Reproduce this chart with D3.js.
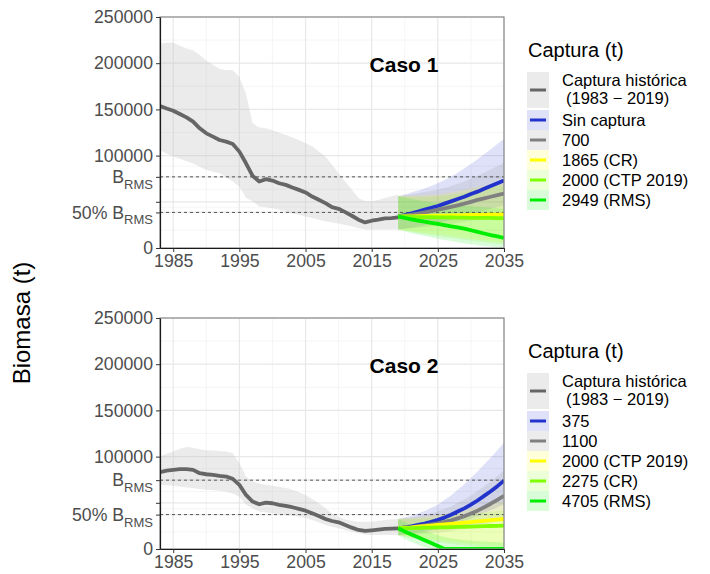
<!DOCTYPE html>
<html>
<head>
<meta charset="utf-8">
<script src="https://cdn.jsdelivr.net/npm/d3@7"></script>
<style>
  body { margin: 0; background: #fff; }
  svg { font-family: 'Liberation Sans', Arial, sans-serif; }
</style>
</head>
<body>
<div id="chart"></div>
<script>
// Data
const histYears = [1983, 1984, 1985, 1986, 1987, 1988, 1989, 1990, 1991, 1992, 1993, 1994, 1995, 1996, 1997, 1998, 1999, 2000, 2001, 2002, 2003, 2004, 2005, 2006, 2007, 2008, 2009, 2010, 2011, 2012, 2013, 2014, 2015, 2016, 2017, 2018, 2019]
const projYears = [2019, 2020, 2021, 2022, 2023, 2024, 2025, 2026, 2027, 2028, 2029, 2030, 2031, 2032, 2033, 2034, 2035]

// Caso 1
const caso1Brms = 77000
const caso1Hist = [153600, 151000, 148600, 145000, 141400, 136700, 129500, 124100, 120500, 116900, 115100, 112600, 104300, 91700, 78000, 71900, 74500, 73000, 70100, 68300, 65500, 62900, 60100, 55700, 52200, 48600, 44200, 42400, 38800, 34900, 30600, 27700, 29500, 30600, 32000, 32400, 33100]
const caso1HistHi = [221000, 222000, 222000, 219000, 216000, 214000, 209000, 203000, 198000, 194000, 192500, 192500, 185000, 167000, 135000, 130500, 129500, 127500, 125000, 122500, 119500, 117000, 113500, 110000, 104500, 99000, 90000, 81000, 72000, 63000, 54000, 50500, 50500, 52000, 54000, 56000, 57500]
const caso1HistLo = [106000, 102000, 99000, 96500, 94000, 91500, 88000, 84500, 82500, 81000, 76500, 72000, 66500, 54000, 50500, 45000, 44000, 43000, 41500, 39500, 37500, 36000, 34000, 32500, 30500, 29000, 27500, 26500, 25000, 23500, 21500, 20000, 20000, 20000, 20000, 20000, 20000]
const caso1Labels = ['Sin captura', '700', '1865 (CR)', '2000 (CTP 2019)', '2949 (RMS)']

const caso1Sin = [34000, 35700, 37500, 39500, 41500, 43500, 45500, 48000, 50500, 53000, 55500, 58500, 61000, 64000, 67000, 70000, 73000]
const caso1SinLo = [20000, 21000, 22000, 23200, 24500, 25700, 27000, 28700, 30500, 32500, 34500, 36500, 38500, 40500, 42500, 44300, 46000]
const caso1SinHi = [56000, 58000, 60000, 62200, 64500, 67000, 70000, 73500, 77000, 81500, 86000, 91000, 96000, 101500, 107000, 112500, 118000]
const caso1C700 = [34000, 35000, 36000, 37200, 38500, 40000, 41500, 43000, 44500, 46200, 48000, 50000, 52000, 53700, 55500, 57200, 59000]
const caso1C700Lo = [20000, 20500, 21000, 21700, 22500, 23200, 24000, 25000, 26000, 27200, 28500, 29700, 31000, 32200, 33500, 34700, 36000]
const caso1C700Hi = [56000, 57000, 58000, 59200, 60500, 61700, 63000, 65000, 67000, 69500, 72000, 75000, 78000, 81500, 85000, 88500, 92000]
const caso1C1865 = [34000, 34100, 34300, 34500, 34700, 34800, 35000, 35100, 35300, 35400, 35600, 35700, 35800, 35900, 36000, 36100, 36200]
const caso1C1865Lo = [20000, 19000, 18000, 17200, 16500, 15700, 15000, 14000, 13000, 12000, 11000, 10000, 9000, 8200, 7500, 6700, 6000]
const caso1C1865Hi = [56000, 56200, 56500, 56700, 57000, 57500, 58000, 59000, 60000, 61500, 63000, 64500, 66000, 67500, 69000, 70500, 72000]
const caso1C2000 = [34000, 33800, 33700, 33500, 33400, 33300, 33200, 33100, 33000, 32900, 32800, 32700, 32600, 32500, 32500, 32400, 32400]
const caso1C2000Lo = [20000, 18700, 17500, 16200, 15000, 14000, 13000, 12000, 11000, 10000, 9000, 8000, 7000, 6200, 5500, 4700, 4000]
const caso1C2000Hi = [56000, 55700, 55500, 55500, 55500, 55700, 56000, 56700, 57500, 58700, 60000, 61500, 63000, 64500, 66000, 67000, 68000]
const caso1C2949 = [34000, 32500, 31000, 29700, 28500, 27200, 26000, 24700, 23500, 22200, 21000, 19200, 17500, 15700, 14000, 12500, 11000]
const caso1C2949Lo = [20000, 18000, 16000, 14500, 13000, 11500, 10000, 8700, 7500, 6200, 5000, 4000, 3000, 2200, 1500, 700, 0]
const caso1C2949Hi = [56000, 54500, 53000, 51700, 50500, 49500, 48500, 47700, 47000, 46200, 45500, 45000, 44500, 44000, 43500, 43000, 42500]

// Caso 2
const caso2Brms = 74500
const caso2Hist = [83100, 84900, 85600, 86400, 86400, 85600, 82000, 80900, 80200, 79100, 78400, 75900, 69400, 58500, 51300, 48400, 50200, 49500, 47700, 46600, 45200, 43400, 41500, 38700, 35800, 32500, 30300, 28900, 26000, 23100, 20600, 19500, 20200, 21000, 21700, 22000, 22400]
const caso2HistHi = [100000, 103000, 105500, 108500, 110500, 109500, 108000, 107000, 106500, 106000, 105500, 103500, 93000, 78500, 73000, 71000, 69500, 68500, 67500, 66000, 64000, 61500, 58500, 54000, 49500, 44000, 38500, 35000, 32000, 30500, 29500, 29500, 29500, 30500, 31500, 32000, 32500]
const caso2HistLo = [69500, 69000, 68500, 67500, 66500, 66000, 65000, 64000, 63500, 63000, 62000, 60000, 56500, 48000, 44000, 40500, 39500, 38700, 37800, 37000, 36000, 35000, 33500, 31500, 29000, 26000, 24000, 22500, 20500, 18800, 17000, 15500, 15200, 15200, 15200, 15200, 15200]
const caso2Labels = ['375', '1100', '2000 (CTP 2019)', '2275 (CR)', '4705 (RMS)']

const caso2C375 = [22400, 23400, 24500, 26000, 27500, 29500, 31500, 34000, 37000, 40500, 44000, 48000, 52500, 57500, 62500, 68000, 74000]
const caso2C375Lo = [15000, 15700, 16500, 17500, 18500, 20000, 21500, 23500, 25500, 28000, 30500, 33000, 36000, 39000, 42000, 45000, 48000]
const caso2C375Hi = [32500, 34200, 36000, 38500, 41000, 44500, 48000, 53000, 58000, 64000, 70000, 77000, 84000, 91500, 99000, 107000, 115000]
const caso2C1100 = [22400, 23000, 23500, 24500, 25500, 26600, 27800, 29300, 31000, 33200, 35500, 38500, 41500, 45200, 49000, 53200, 57500]
const caso2C1100Lo = [15000, 15200, 15500, 16000, 16500, 17000, 17500, 18500, 19500, 20700, 22000, 23500, 25000, 26700, 28500, 30200, 32000]
const caso2C1100Hi = [32500, 33200, 34000, 35500, 37000, 38700, 40500, 43200, 46000, 49700, 53500, 58000, 62500, 67700, 73000, 79000, 85000]
const caso2C2000 = [22400, 23000, 23500, 24200, 24800, 25400, 26000, 26600, 27200, 27800, 28500, 29100, 29800, 30500, 31200, 31800, 32500]
const caso2C2000Lo = [15000, 14000, 13000, 12000, 11000, 10200, 9500, 8700, 8000, 7200, 6500, 5700, 5000, 4500, 4000, 3500, 3000]
const caso2C2000Hi = [32500, 33000, 33500, 34200, 35000, 35700, 36500, 37700, 39000, 40500, 42000, 43500, 45000, 46700, 48500, 50200, 52000]
const caso2C2275 = [22400, 22500, 22700, 22800, 23000, 23100, 23300, 23500, 23700, 23900, 24100, 24300, 24500, 24700, 24900, 25100, 25300]
const caso2C2275Lo = [15000, 13500, 12000, 10700, 9500, 8500, 7500, 6500, 5500, 4700, 4000, 3200, 2500, 1700, 1000, 500, 0]
const caso2C2275Hi = [32500, 32500, 32500, 32700, 33000, 33200, 33500, 34200, 35000, 35700, 36500, 37500, 38500, 39500, 40500, 41200, 42000]
const caso2C4705 = [22400, 19000, 15800, 12600, 9500, 6400, 3300, 0, 0, 0, 0, 0, 0, 0, 0, 0, 0]
const caso2C4705Lo = [15000, 11000, 7500, 4500, 2000, 500, 0, 0, 0, 0, 0, 0, 0, 0, 0, 0, 0]
const caso2C4705Hi = [32500, 29000, 26000, 23000, 20000, 17500, 15000, 13000, 11500, 10500, 9500, 9000, 8500, 8000, 7500, 7200, 7000]

const yTicks = [0, 50000, 100000, 150000, 200000, 250000]
const xTicks = [1985, 1995, 2005, 2015, 2025, 2035]
const xMinor = [1990, 2000, 2010, 2020, 2030]

// Styles
const scenarioColors = ['#2233cc', '#808080', '#ffff00', '#7fff00', '#00ee00']
const histColor = '#666666'
const histFill = '#bdbdbd'

let dimensions = {
  width: 710,
  height: 574,
  left: 160,
  right: 504,
  panelH: 231,
}

const panels = [
  {
    top: 17,
    title: 'Caso 1',
    brms: caso1Brms,
    hist: caso1Hist, histLo: caso1HistLo, histHi: caso1HistHi,
    labels: caso1Labels,
    proj: [
      [caso1Sin, caso1SinLo, caso1SinHi],
      [caso1C700, caso1C700Lo, caso1C700Hi],
      [caso1C1865, caso1C1865Lo, caso1C1865Hi],
      [caso1C2000, caso1C2000Lo, caso1C2000Hi],
      [caso1C2949, caso1C2949Lo, caso1C2949Hi],
    ],
  },
  {
    top: 318,
    title: 'Caso 2',
    brms: caso2Brms,
    hist: caso2Hist, histLo: caso2HistLo, histHi: caso2HistHi,
    labels: caso2Labels,
    proj: [
      [caso2C375, caso2C375Lo, caso2C375Hi],
      [caso2C1100, caso2C1100Lo, caso2C1100Hi],
      [caso2C2000, caso2C2000Lo, caso2C2000Hi],
      [caso2C2275, caso2C2275Lo, caso2C2275Hi],
      [caso2C4705, caso2C4705Lo, caso2C4705Hi],
    ],
  },
]

const svg = d3
  .select('#chart')
  .append('svg')
  .attr('width', dimensions.width)
  .attr('height', dimensions.height)

const xScale = d3
  .scaleLinear()
  .domain([1983, 2035])
  .range([dimensions.left, dimensions.right])

panels.forEach((p, pi) => {
  const yScale = d3
    .scaleLinear()
    .domain([0, 250000])
    .range([p.top + dimensions.panelH, p.top])

  const bottom = p.top + dimensions.panelH
  const half = p.brms / 2

  // grid
  const grid = svg.append('g')
  const majorY = [...yTicks, p.brms, half]
  const sorted = majorY.slice().sort((a, b) => a - b)
  const minorY = d3.pairs(sorted).map(([a, b]) => (a + b) / 2)
  grid.selectAll('.minY').data(minorY).join('line')
    .attr('x1', dimensions.left).attr('x2', dimensions.right)
    .attr('y1', (d) => yScale(d)).attr('y2', (d) => yScale(d))
    .attr('stroke', '#f0f0f0').attr('stroke-width', 0.7)
  grid.selectAll('.minX').data(xMinor).join('line')
    .attr('x1', (d) => xScale(d)).attr('x2', (d) => xScale(d))
    .attr('y1', p.top).attr('y2', bottom)
    .attr('stroke', '#f0f0f0').attr('stroke-width', 0.7)
  grid.selectAll('.majY').data(majorY).join('line')
    .attr('x1', dimensions.left).attr('x2', dimensions.right)
    .attr('y1', (d) => yScale(d)).attr('y2', (d) => yScale(d))
    .attr('stroke', '#e8e8e8').attr('stroke-width', 1.2)
  grid.selectAll('.majX').data(xTicks).join('line')
    .attr('x1', (d) => xScale(d)).attr('x2', (d) => xScale(d))
    .attr('y1', p.top).attr('y2', bottom)
    .attr('stroke', '#e8e8e8').attr('stroke-width', 1.2)

  // clip
  svg.append('clipPath').attr('id', 'clip' + pi)
    .append('rect')
    .attr('x', dimensions.left).attr('y', p.top)
    .attr('width', dimensions.right - dimensions.left)
    .attr('height', dimensions.panelH)

  const ctr = svg.append('g').attr('clip-path', `url(#clip${pi})`)

  // historical ribbon
  const histArea = d3.area()
    .x((d, i) => xScale(histYears[i]))
    .y0((d, i) => yScale(p.histLo[i]))
    .y1((d, i) => yScale(p.histHi[i]))
  ctr.append('path').datum(p.hist).attr('d', histArea)
    .attr('fill', histFill).attr('fill-opacity', 0.3)

  // projection ribbons
  p.proj.forEach(([mid, lo, hi], si) => {
    const area = d3.area()
      .x((d, i) => xScale(projYears[i]))
      .y0((d, i) => yScale(lo[i]))
      .y1((d, i) => yScale(hi[i]))
    ctr.append('path').datum(mid).attr('d', area)
      .attr('fill', scenarioColors[si]).attr('fill-opacity', 0.15)
  })

  // reference lines
  ctr.selectAll('.ref').data([p.brms, half]).join('line')
    .attr('x1', dimensions.left).attr('x2', dimensions.right)
    .attr('y1', (d) => yScale(d)).attr('y2', (d) => yScale(d))
    .attr('stroke', '#555').attr('stroke-width', 1)
    .attr('stroke-dasharray', '3,3')

  // lines
  const histLine = d3.line()
    .x((d, i) => xScale(histYears[i]))
    .y((d) => yScale(d))
  ctr.append('path').datum(p.hist).attr('d', histLine)
    .attr('fill', 'none').attr('stroke', histColor)
    .attr('stroke-width', 3.8).attr('stroke-linejoin', 'round')

  const projLine = d3.line()
    .x((d, i) => xScale(projYears[i]))
    .y((d) => yScale(d))
  p.proj.forEach(([mid], si) => {
    ctr.append('path').datum(mid).attr('d', projLine)
      .attr('fill', 'none').attr('stroke', scenarioColors[si])
      .attr('stroke-width', 3.8).attr('stroke-linejoin', 'round')
  })

  // panel border
  svg.append('rect')
    .attr('x', dimensions.left).attr('y', p.top)
    .attr('width', dimensions.right - dimensions.left)
    .attr('height', dimensions.panelH)
    .attr('fill', 'none').attr('stroke', '#8a8a8a').attr('stroke-width', 1.2)

  // axes
  const yAxis = d3.axisLeft(yScale)
    .tickValues([0, half, 50000, p.brms, 100000, 150000, 200000, 250000])
    .tickFormat((d) => (d === 50000 || d === half || d === p.brms ? '' : d))
    .tickSize(4).tickSizeOuter(0).tickPadding(3)
  const yg = svg.append('g')
    .attr('transform', `translate(${dimensions.left}, 0)`)
    .call(yAxis)
  yg.selectAll('.tick text').each(function (d) {
    const t = d3.select(this)
    if (d === p.brms || d === half) {
      t.append('tspan').text(d === half ? '50% B' : 'B')
      t.append('tspan').attr('font-size', 13).attr('dy', '0.45em').text('RMS')
    }
  })

  const xAxis = d3.axisBottom(xScale)
    .tickValues(xTicks).tickFormat(d3.format('d'))
    .tickSize(4).tickSizeOuter(0).tickPadding(2)
  const xg = svg.append('g')
    .attr('transform', `translate(0, ${bottom})`)
    .call(xAxis)

  ;[yg, xg].forEach((g) => {
    g.select('.domain').attr('stroke', '#1a1a1a').attr('stroke-width', 1.2)
    g.selectAll('.tick line').attr('stroke', '#333')
    g.selectAll('.tick text').attr('font-size', 17.7).attr('fill', '#4d4d4d')
      .attr('font-family', "'Liberation Sans', Arial, sans-serif")
  })

  // panel title
  svg.append('text')
    .attr('x', 404).attr('y', p.top + 55)
    .attr('text-anchor', 'middle')
    .attr('font-size', 21).attr('font-weight', 'bold')
    .text(p.title)

  // legend
  const lg = svg.append('g').attr('transform', `translate(527, ${p.top + 40})`)
  lg.append('text').attr('x', 1).attr('y', 0).attr('font-size', 20).text('Captura (t)')
  lg.append('rect').attr('x', 0).attr('y', 15).attr('width', 22).attr('height', 36)
    .attr('fill', histFill).attr('fill-opacity', 0.3)
  lg.append('line').attr('x1', 3).attr('x2', 19).attr('y1', 33).attr('y2', 33)
    .attr('stroke', histColor).attr('stroke-width', 3)
  lg.append('text').attr('x', 35).attr('y', 29).attr('font-size', 16.5).text('Captura histórica')
  lg.append('text').attr('x', 39).attr('y', 47).attr('font-size', 16.5).text('(1983 − 2019)')

  p.labels.forEach((label, i) => {
    const y0 = 53 + 20 * i
    lg.append('rect').attr('x', 0).attr('y', y0).attr('width', 22).attr('height', 20)
      .attr('fill', scenarioColors[i]).attr('fill-opacity', 0.15)
    lg.append('line').attr('x1', 3).attr('x2', 19).attr('y1', y0 + 10).attr('y2', y0 + 10)
      .attr('stroke', scenarioColors[i]).attr('stroke-width', 3)
    lg.append('text').attr('x', 35).attr('y', y0 + 16).attr('font-size', 16.5).text(label)
  })
})

// y title
svg.append('text')
  .attr('transform', 'translate(30, 323) rotate(-90)')
  .attr('text-anchor', 'middle')
  .attr('font-size', 24)
  .text('Biomasa (t)')
</script>
</body>
</html>
